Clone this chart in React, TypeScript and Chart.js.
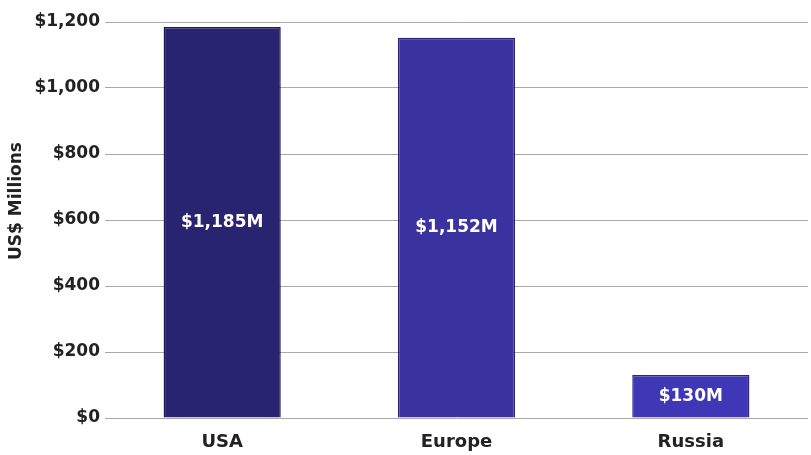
import React, { useEffect, useRef } from "react";
import { Chart, registerables } from "chart.js";

Chart.register(...registerables);

const categories = ["USA", "Europe", "Russia"];
const values = [1185, 1152, 130];
const valueLabels = ["$1,185M", "$1,152M", "$130M"];
const barColors = ["#29246f", "#3a329f", "#3f37b5"];
const borderColors = ["#1c1850", "#28226f", "#2c2680"];
const yTitle = "US$ Millions";

const FONT = "'DejaVu Sans', sans-serif";

const labelPlugin = {
  id: "valueLabels",
  afterDatasetsDraw(chart: any) {
    const ctx = chart.ctx;
    const meta = chart.getDatasetMeta(0);
    ctx.save();
    ctx.fillStyle = "#ffffff";
    ctx.font = `bold 17px ${FONT}`;
    ctx.textAlign = "center";
    ctx.textBaseline = "middle";
    meta.data.forEach((el: any, i: number) => {
      const y = (el.y + el.base) / 2;
      ctx.fillText(valueLabels[i], el.x, y);
    });
    // y-axis title
    ctx.fillStyle = "#222222";
    ctx.font = `bold 17px ${FONT}`;
    ctx.translate(17, 201);
    ctx.rotate(-Math.PI / 2);
    ctx.fillText(yTitle, 0, 0);
    ctx.restore();
  },
};

export default function App() {
  const ref = useRef<HTMLCanvasElement>(null);
  useEffect(() => {
    document.body.style.margin = "0";
    const chart = new Chart(ref.current!, {
      type: "bar",
      data: {
        labels: categories,
        datasets: [
          {
            data: values,
            backgroundColor: barColors,
            borderColor: borderColors,
            borderWidth: 1.5,
            barPercentage: 0.5,
            categoryPercentage: 1,
          },
        ],
      },
      options: {
        animation: false,
        responsive: false,
        maintainAspectRatio: false,
        layout: { padding: { top: 22, right: 3, left: 0, bottom: 0 } },
        plugins: { legend: { display: false }, tooltip: { enabled: false } },
        scales: {
          x: {
            grid: { display: false },
            border: { display: false },
            ticks: {
              color: "#222222",
              font: { family: FONT, size: 18, weight: "bold" },
              padding: 6,
            },
            afterFit(scale: any) {
              scale.height = 37;
            },
          },
          y: {
            min: 0,
            max: 1200,
            ticks: {
              stepSize: 200,
              color: "#222222",
              font: { family: FONT, size: 17, weight: "bold" },
              padding: 5,
              callback: (v: any) => "$" + Number(v).toLocaleString("en-US"),
            },
            grid: { color: "#a8a8a8", lineWidth: 1, drawTicks: false },
            border: { display: false },
            afterFit(scale: any) {
              scale.width = 105;
            },
          },
        },
      },
      plugins: [labelPlugin],
    });
    return () => chart.destroy();
  }, []);
  return <canvas ref={ref} width={811} height={455} style={{ display: "block" }} />;
}
